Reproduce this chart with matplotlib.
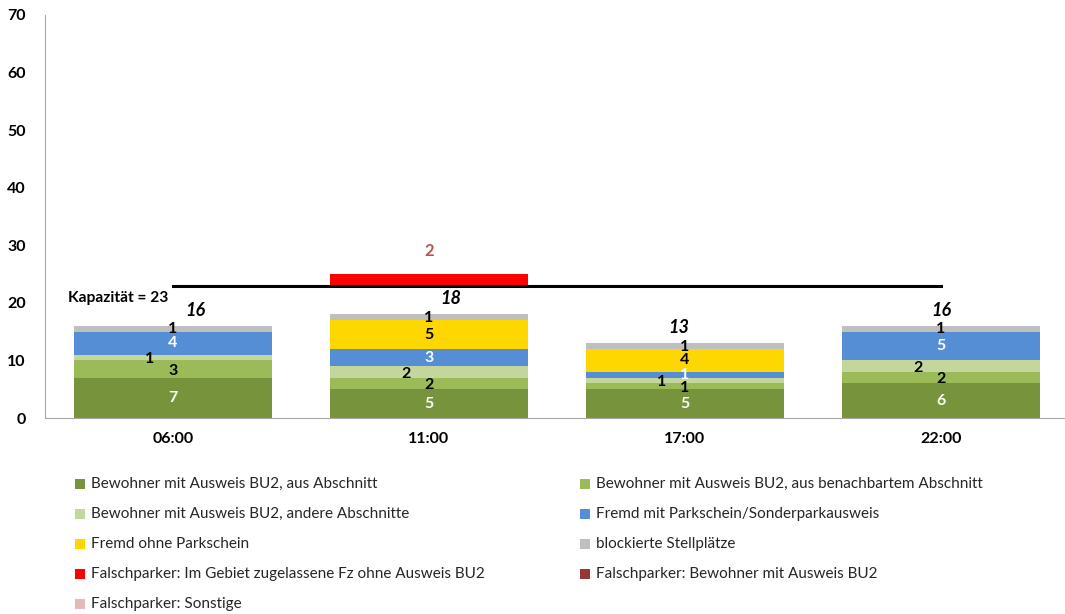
import matplotlib
matplotlib.use("Agg")
import matplotlib.pyplot as plt
from matplotlib.patches import Rectangle
import numpy as np

plt.rcParams['font.family'] = ['Lato', 'DejaVu Sans']

categories = ["06:00", "11:00", "17:00", "22:00"]
bw_abschnitt = [7, 5, 5, 6]
bw_benachbart = [3, 2, 1, 2]
bw_andere = [1, 2, 1, 2]
fremd_mit = [4, 3, 1, 5]
fremd_ohne = [0, 5, 4, 0]
blockiert = [1, 1, 1, 1]
falsch_gebiet = [0, 2, 0, 0]
falsch_bewohner = [0, 0, 0, 0]
falsch_sonstige = [0, 0, 0, 0]
totals = [16, 18, 13, 16]
capacity = 23

series_names = [
    "Bewohner mit Ausweis BU2, aus Abschnitt",
    "Bewohner mit Ausweis BU2, aus benachbartem Abschnitt",
    "Bewohner mit Ausweis BU2, andere Abschnitte",
    "Fremd mit Parkschein/Sonderparkausweis",
    "Fremd ohne Parkschein",
    "blockierte Stellplätze",
    "Falschparker: Im Gebiet zugelassene Fz ohne Ausweis BU2",
    "Falschparker: Bewohner mit Ausweis BU2",
    "Falschparker: Sonstige",
]
colors = ["#77933C", "#9BBB59", "#C3D69B", "#558ED5", "#FFD700", "#BFBFBF",
          "#FF0000", "#953735", "#E6B9B8"]
label_colors = ["white", "black", "black", "white", "black", "black"]
label_dx = [0, 0, -0.09, 0, 0, 0]
label_dy = [0, -0.25, -0.3, 0, 0, -0.1]

fig = plt.figure(figsize=(10.65, 6.14), dpi=100)
ax = fig.add_axes([45/1065, 196/614, 1024/1065, 403/614])

x = np.arange(len(categories))
width = 0.775
stack = [bw_abschnitt, bw_benachbart, bw_andere, fremd_mit, fremd_ohne, blockiert]
bottom = np.zeros(len(categories))
for i, vals in enumerate(stack):
    vals = np.array(vals, dtype=float)
    ax.bar(x, vals, width, bottom=bottom, color=colors[i], zorder=2)
    for j, v in enumerate(vals):
        if v > 0:
            ax.text(x[j] + label_dx[i], bottom[j] + v/2 + label_dy[i], f"{int(v)}",
                    ha='center', va='center', fontsize=11.5, fontweight='bold',
                    color=label_colors[i], zorder=4)
    bottom += vals

# Falschparker stacked above capacity
fb = np.full(len(categories), float(capacity))
for k, vals in enumerate([falsch_gebiet, falsch_bewohner, falsch_sonstige]):
    vals = np.array(vals, dtype=float)
    ax.bar(x, vals, width, bottom=fb, color=colors[6+k], zorder=2)
    for j, v in enumerate(vals):
        if v > 0:
            ax.text(x[j], fb[j] + v + 4, f"{int(v)}", ha='center', va='center',
                    fontsize=12, fontweight='bold', color="#B85450")
    fb += vals

# capacity line
ax.plot([x[0], x[-1]], [capacity, capacity], color='black', lw=2.2, zorder=3)
ax.text(-0.41, 20.8, f"Kapazität = {capacity}", ha='left', va='center',
        fontsize=11.2, fontweight='bold')

tot_dx = [0.086, 0.086, -0.023, 0.0]
for j, t in enumerate(totals):
    ax.text(x[j] + tot_dx[j], t + 2.7, f"{t}", ha='center', va='center',
            fontsize=13, fontweight='bold', style='italic')

ax.set_xlim(-0.5, 3.5)
ax.set_ylim(0, 70)
ax.set_yticks(range(0, 71, 10))
ax.set_xticks(x)
ax.set_xticklabels(categories, fontweight='bold', fontsize=11.5)
for lab in ax.get_yticklabels():
    lab.set_fontweight('bold')
    lab.set_fontsize(11.5)
ax.tick_params(axis='both', length=0)
ax.tick_params(axis='x', pad=10)
ax.tick_params(axis='y', pad=14)
for s in ['top', 'right']:
    ax.spines[s].set_visible(False)
ax.spines['left'].set_color('#A6A6A6')
ax.spines['bottom'].set_color('#A6A6A6')

# legend (manual, two columns)
col_x = [75, 580]
row_y = [484, 514, 544, 574, 604]
for i, name in enumerate(series_names):
    c = i % 2
    r = i // 2
    px = col_x[c]
    py = row_y[r]
    fig.add_artist(Rectangle(((px) / 1065, (614 - py - 5) / 614), 10/1065, 10/614,
                             facecolor=colors[i], edgecolor='none',
                             transform=fig.transFigure))
    fig.text((px + 16) / 1065, (614 - py) / 614, name, ha='left', va='center',
             fontsize=11, color='#262626')

fig.savefig("out.png", dpi=100)
